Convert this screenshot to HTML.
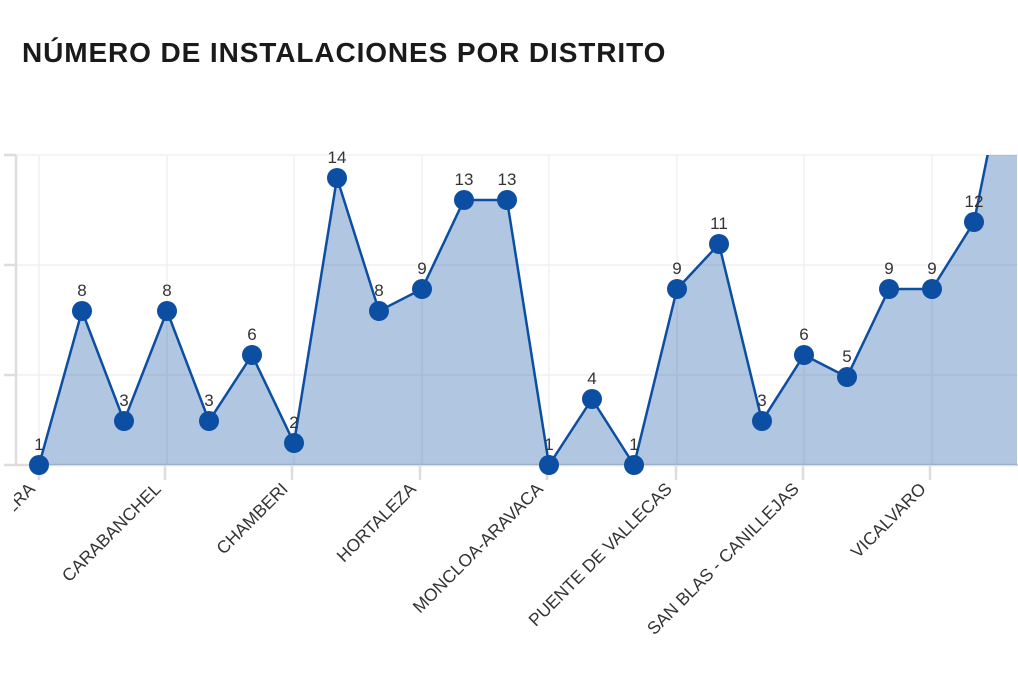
<!DOCTYPE html>
<html><head><meta charset="utf-8"><style>
body{margin:0;background:#fff;width:1018px;height:675px;overflow:hidden;font-family:"Liberation Sans",sans-serif}
</style></head><body>
<svg width="1018" height="675" xmlns="http://www.w3.org/2000/svg" font-family="Liberation Sans, sans-serif" style="display:block">
<text x="22" y="62" font-size="28" font-weight="bold" fill="#1a1a1a" letter-spacing="0.9">NÚMERO DE INSTALACIONES POR DISTRITO</text>
<defs><clipPath id="c"><rect x="16" y="155" width="1002" height="312"/></clipPath></defs>
<g stroke="#f0f0f0" stroke-width="1.5">
<line x1="16" y1="155" x2="1018" y2="155"/><line x1="16" y1="265" x2="1018" y2="265"/><line x1="16" y1="375" x2="1018" y2="375"/>
<line x1="39" y1="155" x2="39" y2="465"/><line x1="167" y1="155" x2="167" y2="465"/><line x1="294" y1="155" x2="294" y2="465"/><line x1="422" y1="155" x2="422" y2="465"/><line x1="549" y1="155" x2="549" y2="465"/><line x1="677" y1="155" x2="677" y2="465"/><line x1="804" y1="155" x2="804" y2="465"/><line x1="932" y1="155" x2="932" y2="465"/>
</g>
<g stroke="#dddddd" stroke-width="2.5">
<line x1="16" y1="155" x2="16" y2="466"/><line x1="16" y1="465" x2="1018" y2="465"/>
<line x1="4" y1="155" x2="16" y2="155"/><line x1="4" y1="265" x2="16" y2="265"/><line x1="4" y1="375" x2="16" y2="375"/><line x1="4" y1="465" x2="16" y2="465"/>
<line x1="39" y1="465" x2="39" y2="480"/><line x1="165" y1="465" x2="165" y2="480"/><line x1="292" y1="465" x2="292" y2="480"/><line x1="420" y1="465" x2="420" y2="480"/><line x1="547" y1="465" x2="547" y2="480"/><line x1="676" y1="465" x2="676" y2="480"/><line x1="803" y1="465" x2="803" y2="480"/><line x1="930" y1="465" x2="930" y2="480"/>
</g>
<g clip-path="url(#c)">
<polygon fill="#0b4ea2" fill-opacity="0.32" points="39,465 82,311 124,421 167,311 209,421 252,355 294,443 337,178 379,311 422,289 464,200 507,200 549,465 592,399 634,465 677,289 719,244 762,421 804,355 847,377 889,289 932,289 974,222 1017,10 1017,465"/>
<polyline fill="none" stroke="#0b4ea2" stroke-width="2.5" points="39,465 82,311 124,421 167,311 209,421 252,355 294,443 337,178 379,311 422,289 464,200 507,200 549,465 592,399 634,465 677,289 719,244 762,421 804,355 847,377 889,289 932,289 974,222 1017,10"/>
</g>
<g fill="#0b4ea2">
<circle cx="39" cy="465" r="10"/><circle cx="82" cy="311" r="10"/><circle cx="124" cy="421" r="10"/><circle cx="167" cy="311" r="10"/><circle cx="209" cy="421" r="10"/><circle cx="252" cy="355" r="10"/><circle cx="294" cy="443" r="10"/><circle cx="337" cy="178" r="10"/><circle cx="379" cy="311" r="10"/><circle cx="422" cy="289" r="10"/><circle cx="464" cy="200" r="10"/><circle cx="507" cy="200" r="10"/><circle cx="549" cy="465" r="10"/><circle cx="592" cy="399" r="10"/><circle cx="634" cy="465" r="10"/><circle cx="677" cy="289" r="10"/><circle cx="719" cy="244" r="10"/><circle cx="762" cy="421" r="10"/><circle cx="804" cy="355" r="10"/><circle cx="847" cy="377" r="10"/><circle cx="889" cy="289" r="10"/><circle cx="932" cy="289" r="10"/><circle cx="974" cy="222" r="10"/>
</g>
<g font-size="17" fill="#333" text-anchor="middle">
<text x="39" y="450">1</text><text x="82" y="296">8</text><text x="124" y="406">3</text><text x="167" y="296">8</text><text x="209" y="406">3</text><text x="252" y="340">6</text><text x="294" y="428">2</text><text x="337" y="163">14</text><text x="379" y="296">8</text><text x="422" y="274">9</text><text x="464" y="185">13</text><text x="507" y="185">13</text><text x="549" y="450">1</text><text x="592" y="384">4</text><text x="634" y="450">1</text><text x="677" y="274">9</text><text x="719" y="229">11</text><text x="762" y="406">3</text><text x="804" y="340">6</text><text x="847" y="362">5</text><text x="889" y="274">9</text><text x="932" y="274">9</text><text x="974" y="207">12</text>
</g>
<g font-size="17.5" fill="#333" text-anchor="end">
<text transform="translate(36,490) rotate(-45)">USERA</text>
<text transform="translate(162,490) rotate(-45)">CARABANCHEL</text>
<text transform="translate(289,490) rotate(-45)">CHAMBERI</text>
<text transform="translate(417,490) rotate(-45)">HORTALEZA</text>
<text transform="translate(544,490) rotate(-45)">MONCLOA-ARAVACA</text>
<text transform="translate(673,490) rotate(-45)">PUENTE DE VALLECAS</text>
<text transform="translate(800,490) rotate(-45)">SAN BLAS - CANILLEJAS</text>
<text transform="translate(927,490) rotate(-45)">VICALVARO</text>
</g>
<rect x="0" y="470" width="14" height="205" fill="#fff"/>
</svg>
</body></html>
